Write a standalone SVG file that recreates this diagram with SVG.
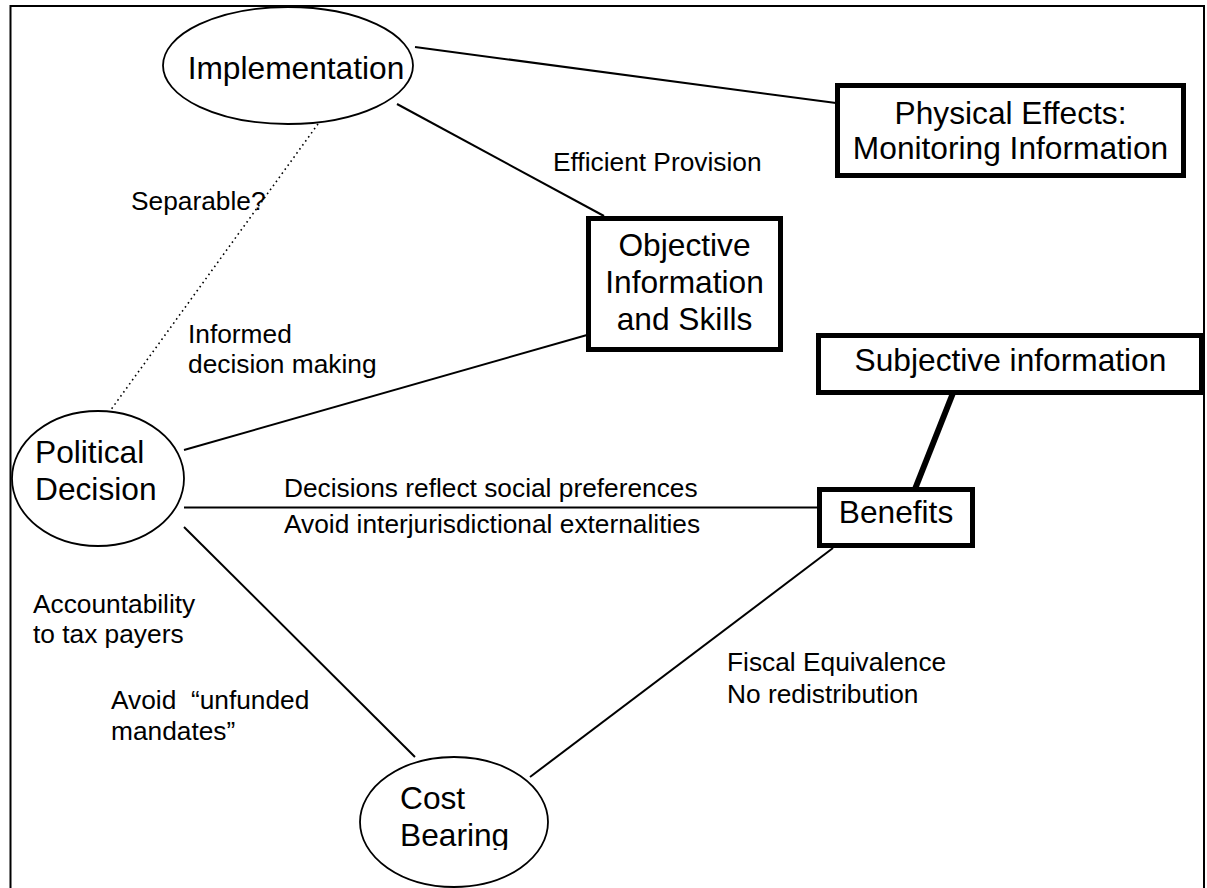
<svg xmlns="http://www.w3.org/2000/svg" width="1207" height="888" viewBox="0 0 1207 888">
  <style>
    .node-ellipse { fill: #ffffff; stroke: #000000; stroke-width: 1.8; }
    .node-box { fill: #ffffff; stroke: #000000; stroke-width: 5; }
    .node-text { font-family: "Liberation Sans", Arial, sans-serif; font-size: 31.7px; fill: #000000; }
    .label { font-family: "Liberation Sans", Arial, sans-serif; font-size: 26.3px; fill: #000000; white-space: pre; }
    .link { stroke: #000000; stroke-width: 2; fill: none; }
    .link-thick { stroke: #000000; stroke-width: 6; fill: none; }
    .link-dotted { stroke: #000000; stroke-width: 1.6; stroke-dasharray: 1.6 3.4; fill: none; }
  </style>
  <defs>
    <clipPath id="cost-clip">
      <rect x="0" y="0" width="1207" height="850"/>
    </clipPath>
  </defs>

  <rect x="0" y="0" width="1207" height="888" fill="#ffffff"/>

  <!-- frame -->
  <path d="M10.5 888 V6 H1204 V888" fill="none" stroke="#000000" stroke-width="2"/>

  <!-- connectors -->
  <g id="connectors">
    <line class="link" x1="415" y1="47" x2="836" y2="103"/>
    <line class="link" x1="397" y1="104" x2="604" y2="216"/>
    <line class="link-dotted" x1="318" y1="124" x2="110" y2="411"/>
    <line class="link" x1="184" y1="450" x2="587" y2="335"/>
    <line class="link" x1="184" y1="507.5" x2="818" y2="507.5"/>
    <line class="link" x1="184" y1="527" x2="415" y2="757"/>
    <line class="link" x1="833" y1="548" x2="530" y2="777"/>
    <line class="link-thick" x1="953" y1="393" x2="915" y2="489"/>
  </g>

  <!-- connector labels -->
  <g id="labels">
    <text class="label" x="553" y="171">Efficient Provision</text>
    <text class="label" x="131" y="210">Separable?</text>
    <text class="label" x="188" y="343">Informed</text>
    <text class="label" x="188" y="373">decision making</text>
    <text class="label" x="284" y="497">Decisions reflect social preferences</text>
    <text class="label" x="284" y="533">Avoid interjurisdictional externalities</text>
    <text class="label" x="33" y="613">Accountability</text>
    <text class="label" x="33" y="643">to tax payers</text>
    <text class="label" x="111" y="709">Avoid  “unfunded</text>
    <text class="label" x="111" y="740">mandates”</text>
    <text class="label" x="727" y="671">Fiscal Equivalence</text>
    <text class="label" x="727" y="703">No redistribution</text>
  </g>

  <!-- nodes -->
  <g id="implementation">
    <ellipse class="node-ellipse" cx="288" cy="65.5" rx="125" ry="58.5"/>
    <text class="node-text" x="296" y="79" text-anchor="middle">Implementation</text>
  </g>

  <g id="physical-effects">
    <rect class="node-box" x="837.5" y="85.5" width="346" height="90"/>
    <text class="node-text" x="1010.5" y="124" text-anchor="middle">Physical Effects:</text>
    <text class="node-text" x="1010.5" y="159" text-anchor="middle">Monitoring Information</text>
  </g>

  <g id="objective-information">
    <rect class="node-box" x="588.5" y="218.5" width="192" height="131"/>
    <text class="node-text" x="684.5" y="256" text-anchor="middle">Objective</text>
    <text class="node-text" x="684.5" y="293" text-anchor="middle">Information</text>
    <text class="node-text" x="684.5" y="330" text-anchor="middle">and Skills</text>
  </g>

  <g id="subjective-information">
    <rect class="node-box" x="818.5" y="335.5" width="383" height="57"/>
    <text class="node-text" x="1010.5" y="371" text-anchor="middle">Subjective information</text>
  </g>

  <g id="benefits">
    <rect class="node-box" x="819.5" y="489.5" width="153" height="56"/>
    <text class="node-text" x="896" y="523" text-anchor="middle">Benefits</text>
  </g>

  <g id="political-decision">
    <ellipse class="node-ellipse" cx="98" cy="478.5" rx="86" ry="67.5"/>
    <text class="node-text" x="35" y="463">Political</text>
    <text class="node-text" x="35" y="500">Decision</text>
  </g>

  <g id="cost-bearing">
    <ellipse class="node-ellipse" cx="454" cy="822" rx="94" ry="65"/>
    <g clip-path="url(#cost-clip)">
      <text class="node-text" x="400" y="809">Cost</text>
      <text class="node-text" x="400" y="846">Bearing</text>
    </g>
  </g>
</svg>
